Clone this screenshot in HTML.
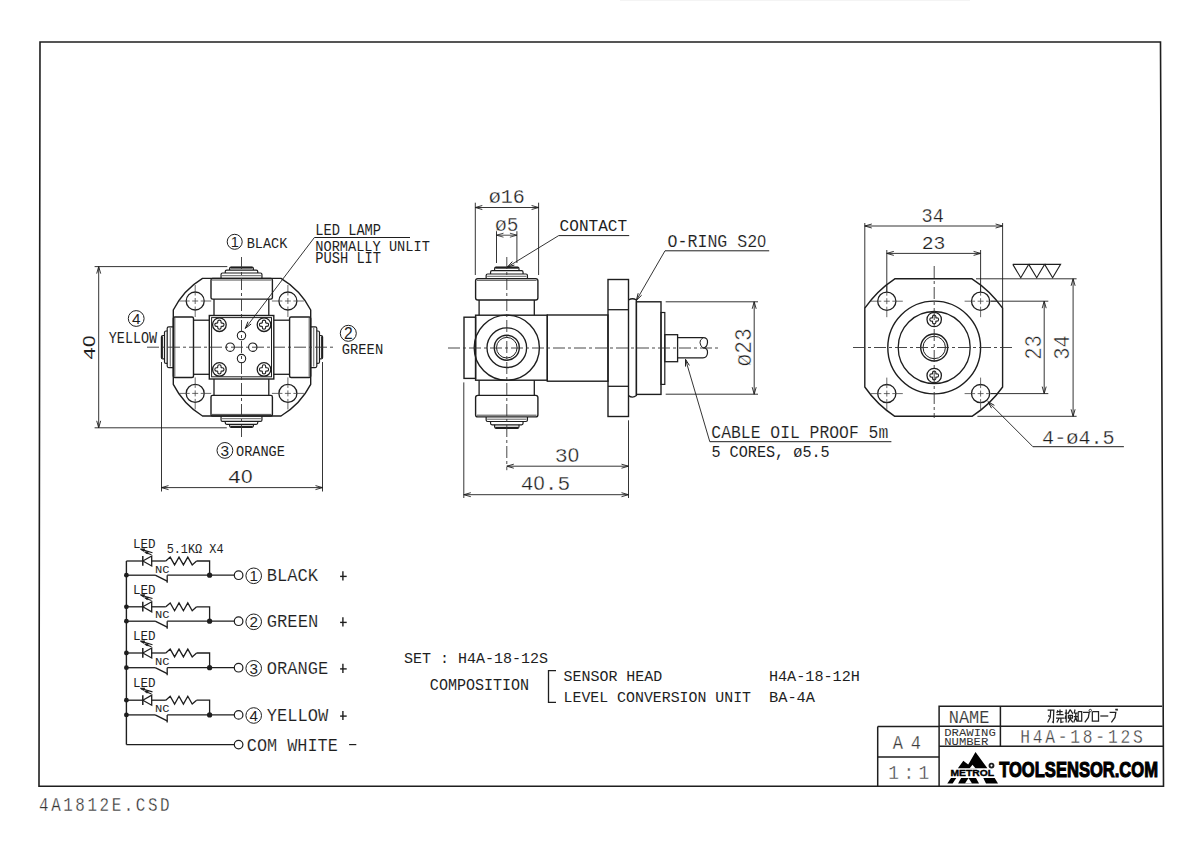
<!DOCTYPE html>
<html><head><meta charset="utf-8"><title>H4A-18-12S</title>
<style>html,body{margin:0;padding:0;background:#fff;} svg{display:block;}</style></head>
<body><svg width="1200" height="846" viewBox="0 0 1200 846">
<rect x="0" y="0" width="1200" height="846" fill="#fff"/>
<path d="M40 42 L1160.5 42 L1163.5 786.3 L39 786.3 Z" stroke="#1e1e1e" stroke-width="1.6" fill="none" />
<text x="38.78" y="811" font-family="Liberation Mono" font-size="20.33" font-weight="normal" fill="#333" textLength="167.31" lengthAdjust="spacing" transform="translate(40,0) scale(0.78,1) translate(-40,0)"  stroke="#fff" stroke-width="0.3">4A1812E.CSD</text>
<line x1="620" y1="0.5" x2="970" y2="0.5" stroke="#f4f4f4" stroke-width="1" />
<path d="M202.5 278.4 L281 278.4 A79 79 0 0 1 310.7 310 L310.7 384.4 A79 79 0 0 1 281 416 L202.5 416 A79 79 0 0 1 173.3 384.4 L173.3 310 A79 79 0 0 1 202.5 278.4 Z" stroke="#1e1e1e" stroke-width="1.4" fill="none" />
<rect x="211" y="278.4" width="61.4" height="20.7" rx="1.5" stroke="#1e1e1e" stroke-width="1.4" fill="none"/>
<rect x="211" y="395.4" width="61.4" height="20.6" rx="1.5" stroke="#1e1e1e" stroke-width="1.4" fill="none"/>
<rect x="173.3" y="317" width="20.2" height="60.5" rx="1.5" stroke="#1e1e1e" stroke-width="1.4" fill="none"/>
<rect x="289.6" y="317" width="21.1" height="60.5" rx="1.5" stroke="#1e1e1e" stroke-width="1.4" fill="none"/>
<line x1="174.8" y1="318" x2="174.8" y2="376.5" stroke="#1e1e1e" stroke-width="0.8" />
<line x1="309.2" y1="318" x2="309.2" y2="376.5" stroke="#1e1e1e" stroke-width="0.8" />
<line x1="212" y1="280" x2="271.4" y2="280" stroke="#1e1e1e" stroke-width="0.8" />
<line x1="212" y1="414.4" x2="271.4" y2="414.4" stroke="#1e1e1e" stroke-width="0.8" />
<line x1="214" y1="299.1" x2="214" y2="315.5" stroke="#1e1e1e" stroke-width="1.3" />
<line x1="214" y1="379" x2="214" y2="395.4" stroke="#1e1e1e" stroke-width="1.3" />
<line x1="268.8" y1="299.1" x2="268.8" y2="315.5" stroke="#1e1e1e" stroke-width="1.3" />
<line x1="268.8" y1="379" x2="268.8" y2="395.4" stroke="#1e1e1e" stroke-width="1.3" />
<line x1="193.5" y1="320.2" x2="209.3" y2="320.2" stroke="#1e1e1e" stroke-width="1.3" />
<line x1="273.8" y1="320.2" x2="289.6" y2="320.2" stroke="#1e1e1e" stroke-width="1.3" />
<line x1="193.5" y1="374.3" x2="209.3" y2="374.3" stroke="#1e1e1e" stroke-width="1.3" />
<line x1="273.8" y1="374.3" x2="289.6" y2="374.3" stroke="#1e1e1e" stroke-width="1.3" />
<rect x="209.3" y="315.5" width="64.5" height="63.5" rx="0" stroke="#1e1e1e" stroke-width="1.4" fill="none"/>
<rect x="211.6" y="317.6" width="59.9" height="59.2" rx="0" stroke="#1e1e1e" stroke-width="1.0" fill="none"/>
<circle cx="195.2" cy="301" r="9" stroke="#1e1e1e" stroke-width="1.3" fill="none"/>
<line x1="179.2" y1="301" x2="211.2" y2="301" stroke="#444" stroke-width="0.8" stroke-dasharray="10.5 2.5 6 2.5 10.5 40"/>
<line x1="195.2" y1="285" x2="195.2" y2="317" stroke="#444" stroke-width="0.8" stroke-dasharray="10.5 2.5 6 2.5 10.5 40"/>
<circle cx="195.2" cy="393.4" r="9" stroke="#1e1e1e" stroke-width="1.3" fill="none"/>
<line x1="179.2" y1="393.4" x2="211.2" y2="393.4" stroke="#444" stroke-width="0.8" stroke-dasharray="10.5 2.5 6 2.5 10.5 40"/>
<line x1="195.2" y1="377.4" x2="195.2" y2="409.4" stroke="#444" stroke-width="0.8" stroke-dasharray="10.5 2.5 6 2.5 10.5 40"/>
<circle cx="287.9" cy="301" r="9" stroke="#1e1e1e" stroke-width="1.3" fill="none"/>
<line x1="271.9" y1="301" x2="303.9" y2="301" stroke="#444" stroke-width="0.8" stroke-dasharray="10.5 2.5 6 2.5 10.5 40"/>
<line x1="287.9" y1="285" x2="287.9" y2="317" stroke="#444" stroke-width="0.8" stroke-dasharray="10.5 2.5 6 2.5 10.5 40"/>
<circle cx="287.9" cy="393.4" r="9" stroke="#1e1e1e" stroke-width="1.3" fill="none"/>
<line x1="271.9" y1="393.4" x2="303.9" y2="393.4" stroke="#444" stroke-width="0.8" stroke-dasharray="10.5 2.5 6 2.5 10.5 40"/>
<line x1="287.9" y1="377.4" x2="287.9" y2="409.4" stroke="#444" stroke-width="0.8" stroke-dasharray="10.5 2.5 6 2.5 10.5 40"/>
<circle cx="219.4" cy="324.7" r="6.8" stroke="#1e1e1e" stroke-width="1.3" fill="none"/>
<path d="M217.7 321.8 A1.7 1.7 0 0 1 221.1 321.8 Q220.68 323.43 222.3 323 A1.7 1.7 0 0 1 222.3 326.4 Q220.68 325.97 221.1 327.6 A1.7 1.7 0 0 1 217.7 327.6 Q218.12 325.97 216.5 326.4 A1.7 1.7 0 0 1 216.5 323 Q218.12 323.43 217.7 321.8 Z" stroke="#1e1e1e" stroke-width="1.1" fill="none" />
<circle cx="219.4" cy="369.4" r="6.8" stroke="#1e1e1e" stroke-width="1.3" fill="none"/>
<path d="M217.7 366.5 A1.7 1.7 0 0 1 221.1 366.5 Q220.68 368.12 222.3 367.7 A1.7 1.7 0 0 1 222.3 371.1 Q220.68 370.67 221.1 372.3 A1.7 1.7 0 0 1 217.7 372.3 Q218.12 370.67 216.5 371.1 A1.7 1.7 0 0 1 216.5 367.7 Q218.12 368.12 217.7 366.5 Z" stroke="#1e1e1e" stroke-width="1.1" fill="none" />
<circle cx="264" cy="324.7" r="6.8" stroke="#1e1e1e" stroke-width="1.3" fill="none"/>
<path d="M262.3 321.8 A1.7 1.7 0 0 1 265.7 321.8 Q265.27 323.43 266.9 323 A1.7 1.7 0 0 1 266.9 326.4 Q265.27 325.97 265.7 327.6 A1.7 1.7 0 0 1 262.3 327.6 Q262.73 325.97 261.1 326.4 A1.7 1.7 0 0 1 261.1 323 Q262.73 323.43 262.3 321.8 Z" stroke="#1e1e1e" stroke-width="1.1" fill="none" />
<circle cx="264" cy="369.4" r="6.8" stroke="#1e1e1e" stroke-width="1.3" fill="none"/>
<path d="M262.3 366.5 A1.7 1.7 0 0 1 265.7 366.5 Q265.27 368.12 266.9 367.7 A1.7 1.7 0 0 1 266.9 371.1 Q265.27 370.67 265.7 372.3 A1.7 1.7 0 0 1 262.3 372.3 Q262.73 370.67 261.1 371.1 A1.7 1.7 0 0 1 261.1 367.7 Q262.73 368.12 262.3 366.5 Z" stroke="#1e1e1e" stroke-width="1.1" fill="none" />
<circle cx="241.5" cy="335.6" r="4.2" stroke="#1e1e1e" stroke-width="1.1" fill="none"/>
<circle cx="241.5" cy="358.6" r="4.2" stroke="#1e1e1e" stroke-width="1.1" fill="none"/>
<circle cx="230.2" cy="347.2" r="4.2" stroke="#1e1e1e" stroke-width="1.1" fill="none"/>
<circle cx="252.8" cy="347.2" r="4.2" stroke="#1e1e1e" stroke-width="1.1" fill="none"/>
<path d="M221.05 278.4 L221.05 274.5 Q221.05 273 222.55 273 L260.45 273 Q261.95 273 261.95 274.5 L261.95 278.4" stroke="#1e1e1e" stroke-width="1.2" fill="none" />
<line x1="222.05" y1="275.7" x2="260.95" y2="275.7" stroke="#1e1e1e" stroke-width="0.7" />
<path d="M225.25 273 L225.25 271.6 Q225.25 270.1 226.75 270.1 L256.25 270.1 Q257.75 270.1 257.75 271.6 L257.75 273" stroke="#1e1e1e" stroke-width="1.2" fill="none" />
<path d="M229.6 270.1 L229.6 268.6 Q229.6 267.1 231.1 267.1 L251.9 267.1 Q253.4 267.1 253.4 268.6 L253.4 270.1" stroke="#1e1e1e" stroke-width="1.2" fill="none" />
<line x1="230.5" y1="267.7" x2="252.5" y2="267.7" stroke="#1e1e1e" stroke-width="1.8" />
<path d="M221.05 416 L221.05 419.9 Q221.05 421.4 222.55 421.4 L260.45 421.4 Q261.95 421.4 261.95 419.9 L261.95 416" stroke="#1e1e1e" stroke-width="1.2" fill="none" />
<line x1="222.05" y1="418.7" x2="260.95" y2="418.7" stroke="#1e1e1e" stroke-width="0.7" />
<path d="M225.25 421.4 L225.25 422.8 Q225.25 424.3 226.75 424.3 L256.25 424.3 Q257.75 424.3 257.75 422.8 L257.75 421.4" stroke="#1e1e1e" stroke-width="1.2" fill="none" />
<path d="M229.6 424.3 L229.6 425.8 Q229.6 427.3 231.1 427.3 L251.9 427.3 Q253.4 427.3 253.4 425.8 L253.4 424.3" stroke="#1e1e1e" stroke-width="1.2" fill="none" />
<line x1="230.5" y1="426.7" x2="252.5" y2="426.7" stroke="#1e1e1e" stroke-width="1.8" />
<path d="M173.3 326.85 L168.7 326.85 Q167.2 326.85 167.2 328.35 L167.2 366.05 Q167.2 367.55 168.7 367.55 L173.3 367.55" stroke="#1e1e1e" stroke-width="1.2" fill="none" />
<line x1="170.25" y1="327.85" x2="170.25" y2="366.55" stroke="#1e1e1e" stroke-width="0.7" />
<path d="M167.2 331 L166 331 Q164.5 331 164.5 332.5 L164.5 361.9 Q164.5 363.4 166 363.4 L167.2 363.4" stroke="#1e1e1e" stroke-width="1.2" fill="none" />
<path d="M164.5 335.5 L162.9 335.5 Q161.4 335.5 161.4 337 L161.4 357.4 Q161.4 358.9 162.9 358.9 L164.5 358.9" stroke="#1e1e1e" stroke-width="1.2" fill="none" />
<line x1="162" y1="336.2" x2="162" y2="358.2" stroke="#1e1e1e" stroke-width="1.8" />
<path d="M310.7 326.85 L315.3 326.85 Q316.8 326.85 316.8 328.35 L316.8 366.05 Q316.8 367.55 315.3 367.55 L310.7 367.55" stroke="#1e1e1e" stroke-width="1.2" fill="none" />
<line x1="313.75" y1="327.85" x2="313.75" y2="366.55" stroke="#1e1e1e" stroke-width="0.7" />
<path d="M316.8 331 L318 331 Q319.5 331 319.5 332.5 L319.5 361.9 Q319.5 363.4 318 363.4 L316.8 363.4" stroke="#1e1e1e" stroke-width="1.2" fill="none" />
<path d="M319.5 335.5 L321.1 335.5 Q322.6 335.5 322.6 337 L322.6 357.4 Q322.6 358.9 321.1 358.9 L319.5 358.9" stroke="#1e1e1e" stroke-width="1.2" fill="none" />
<line x1="322" y1="336.2" x2="322" y2="358.2" stroke="#1e1e1e" stroke-width="1.8" />
<line x1="241.5" y1="257" x2="241.5" y2="439.5" stroke="#333" stroke-width="0.9" stroke-dasharray="12 3 3 3"/>
<line x1="147" y1="347.2" x2="336" y2="347.2" stroke="#333" stroke-width="0.9" stroke-dasharray="12 3 3 3"/>
<line x1="94.6" y1="266.6" x2="227.3" y2="266.6" stroke="#1e1e1e" stroke-width="0.9" />
<line x1="94.6" y1="427.8" x2="226.8" y2="427.8" stroke="#1e1e1e" stroke-width="0.9" />
<line x1="98.7" y1="266.6" x2="98.7" y2="427.8" stroke="#1e1e1e" stroke-width="0.9" />
<path d="M96.7 273.6 L98.7 266.6 L100.7 273.6" stroke="#1e1e1e" stroke-width="0.9" fill="none" />
<path d="M100.7 420.8 L98.7 427.8 L96.7 420.8" stroke="#1e1e1e" stroke-width="0.9" fill="none" />
<text transform="translate(94.6,359) rotate(-90)" x="-1.27" y="0" font-family="Liberation Mono" font-size="17" fill="#1e1e1e" stroke="#fff" stroke-width="0.03" textLength="25.05" lengthAdjust="spacingAndGlyphs">4<tspan font-family="Liberation Sans" font-size="16.05">0</tspan></text>
<line x1="161.5" y1="362" x2="161.5" y2="491.5" stroke="#1e1e1e" stroke-width="0.9" />
<line x1="322.5" y1="362" x2="322.5" y2="491.5" stroke="#1e1e1e" stroke-width="0.9" />
<line x1="161.5" y1="487.6" x2="322.5" y2="487.6" stroke="#1e1e1e" stroke-width="0.9" />
<path d="M168.5 489.6 L161.5 487.6 L168.5 485.6" stroke="#1e1e1e" stroke-width="0.9" fill="none" />
<path d="M315.5 485.6 L322.5 487.6 L315.5 489.6" stroke="#1e1e1e" stroke-width="0.9" fill="none" />
<text x="227.86" y="482.8" font-family="Liberation Mono" font-size="19.12" font-weight="normal" fill="#1e1e1e" textLength="24.78" lengthAdjust="spacingAndGlyphs"  stroke="#fff" stroke-width="0.2">4<tspan font-family="Liberation Sans" font-size="18.05">0</tspan></text>
<circle cx="234.7" cy="241.8" r="7.5" stroke="#1e1e1e" stroke-width="1.0" fill="none"/>
<text x="234.7" y="246.9" text-anchor="middle" font-family="Liberation Sans" font-size="14.61" fill="#1e1e1e">1</text>
<text x="246.75" y="247.8" font-family="Liberation Mono" font-size="15.02" font-weight="normal" fill="#1e1e1e" textLength="40.6" lengthAdjust="spacingAndGlyphs" >BLACK</text>
<circle cx="348.3" cy="333.3" r="8" stroke="#1e1e1e" stroke-width="1.0" fill="none"/>
<text x="348.3" y="338.74" text-anchor="middle" font-family="Liberation Sans" font-size="15.59" fill="#1e1e1e">2</text>
<text x="341.84" y="354.2" font-family="Liberation Mono" font-size="15.17" font-weight="normal" fill="#1e1e1e" textLength="41.32" lengthAdjust="spacingAndGlyphs" >GREEN</text>
<circle cx="136.2" cy="318.5" r="7.9" stroke="#1e1e1e" stroke-width="1.0" fill="none"/>
<text x="136.2" y="323.87" text-anchor="middle" font-family="Liberation Sans" font-size="15.39" fill="#1e1e1e">4</text>
<text x="108.77" y="343.3" font-family="Liberation Mono" font-size="16.08" font-weight="normal" fill="#1e1e1e" textLength="48.35" lengthAdjust="spacingAndGlyphs" >YELLOW</text>
<circle cx="224.9" cy="450.4" r="7.9" stroke="#1e1e1e" stroke-width="1.0" fill="none"/>
<text x="224.9" y="455.77" text-anchor="middle" font-family="Liberation Sans" font-size="15.39" fill="#1e1e1e">3</text>
<text x="236.03" y="456.2" font-family="Liberation Mono" font-size="15.33" font-weight="normal" fill="#1e1e1e" textLength="48.85" lengthAdjust="spacingAndGlyphs" >ORANGE</text>
<text x="315.21" y="234.7" font-family="Liberation Mono" font-size="15.63" font-weight="normal" fill="#1e1e1e" textLength="65.89" lengthAdjust="spacingAndGlyphs" >LED LAMP</text>
<text x="315.27" y="251" font-family="Liberation Mono" font-size="14.72" font-weight="normal" fill="#1e1e1e" textLength="114.56" lengthAdjust="spacingAndGlyphs" >NORMALLY UNLIT</text>
<text x="315.21" y="262.8" font-family="Liberation Mono" font-size="15.63" font-weight="normal" fill="#1e1e1e" textLength="65.89" lengthAdjust="spacingAndGlyphs" >PUSH LIT</text>
<line x1="314.4" y1="237.5" x2="410" y2="237.5" stroke="#1e1e1e" stroke-width="1.0" />
<line x1="314.4" y1="237.5" x2="245.3" y2="328.4" stroke="#1e1e1e" stroke-width="0.9" />
<path d="M251.13 324.04 L245.3 328.4 L247.94 321.62" stroke="#1e1e1e" stroke-width="1.0" fill="none" />
<rect x="475.6" y="278.6" width="62.3" height="21.4" rx="2.2" stroke="#1e1e1e" stroke-width="1.4" fill="none"/>
<line x1="477" y1="280.3" x2="536.5" y2="280.3" stroke="#1e1e1e" stroke-width="0.8" />
<rect x="475.6" y="395.4" width="62.3" height="21.5" rx="2.2" stroke="#1e1e1e" stroke-width="1.4" fill="none"/>
<line x1="477" y1="415.2" x2="536.5" y2="415.2" stroke="#1e1e1e" stroke-width="0.8" />
<line x1="479.1" y1="300" x2="479.1" y2="315.2" stroke="#1e1e1e" stroke-width="1.3" />
<line x1="479.1" y1="380.2" x2="479.1" y2="395.4" stroke="#1e1e1e" stroke-width="1.3" />
<line x1="534.3" y1="300" x2="534.3" y2="315.2" stroke="#1e1e1e" stroke-width="1.3" />
<line x1="534.3" y1="380.2" x2="534.3" y2="395.4" stroke="#1e1e1e" stroke-width="1.3" />
<rect x="475.6" y="315.2" width="71.7" height="65" rx="0" stroke="#1e1e1e" stroke-width="1.4" fill="none"/>
<rect x="464" y="317.2" width="11.6" height="61.2" rx="0" stroke="#1e1e1e" stroke-width="1.4" fill="none"/>
<circle cx="506.8" cy="347.7" r="32.6" stroke="#1e1e1e" stroke-width="1.4" fill="none"/>
<circle cx="506.8" cy="347.7" r="19.8" stroke="#1e1e1e" stroke-width="1.3" fill="none"/>
<circle cx="506.8" cy="347.7" r="12.5" stroke="#1e1e1e" stroke-width="1.4" fill="none"/>
<circle cx="506.8" cy="347.7" r="10.3" stroke="#1e1e1e" stroke-width="1.0" fill="none"/>
<path d="M486.15 278.6 L486.15 275.5 Q486.15 274 487.65 274 L525.95 274 Q527.45 274 527.45 275.5 L527.45 278.6" stroke="#1e1e1e" stroke-width="1.2" fill="none" />
<line x1="487.15" y1="276.3" x2="526.45" y2="276.3" stroke="#1e1e1e" stroke-width="0.7" />
<path d="M490.55 274 L490.55 272.2 Q490.55 270.7 492.05 270.7 L521.55 270.7 Q523.05 270.7 523.05 272.2 L523.05 274" stroke="#1e1e1e" stroke-width="1.2" fill="none" />
<path d="M494.6 270.7 L494.6 268.7 Q494.6 267.2 496.1 267.2 L517.5 267.2 Q519 267.2 519 268.7 L519 270.7" stroke="#1e1e1e" stroke-width="1.2" fill="none" />
<line x1="495.3" y1="267.8" x2="518.3" y2="267.8" stroke="#1e1e1e" stroke-width="1.8" />
<path d="M486.15 416.9 L486.15 420 Q486.15 421.5 487.65 421.5 L525.95 421.5 Q527.45 421.5 527.45 420 L527.45 416.9" stroke="#1e1e1e" stroke-width="1.2" fill="none" />
<line x1="487.15" y1="419.2" x2="526.45" y2="419.2" stroke="#1e1e1e" stroke-width="0.7" />
<path d="M490.55 421.5 L490.55 423.3 Q490.55 424.8 492.05 424.8 L521.55 424.8 Q523.05 424.8 523.05 423.3 L523.05 421.5" stroke="#1e1e1e" stroke-width="1.2" fill="none" />
<path d="M494.6 424.8 L494.6 426.8 Q494.6 428.3 496.1 428.3 L517.5 428.3 Q519 428.3 519 426.8 L519 424.8" stroke="#1e1e1e" stroke-width="1.2" fill="none" />
<line x1="495.3" y1="427.7" x2="518.3" y2="427.7" stroke="#1e1e1e" stroke-width="1.8" />
<rect x="547.3" y="315" width="60.7" height="66.2" rx="0" stroke="#1e1e1e" stroke-width="1.4" fill="none"/>
<rect x="608" y="279.5" width="20.5" height="137" rx="0" stroke="#1e1e1e" stroke-width="1.4" fill="none"/>
<line x1="608" y1="309.7" x2="628.5" y2="309.7" stroke="#1e1e1e" stroke-width="1.3" />
<line x1="608" y1="386.3" x2="628.5" y2="386.3" stroke="#1e1e1e" stroke-width="1.3" />
<path d="M628.5 300 Q632.5 297.5 636.4 300 L636.4 395.6 Q632.5 398.5 628.5 395.6" stroke="#1e1e1e" stroke-width="1.3" fill="none" />
<rect x="636.4" y="301.8" width="24.6" height="92.6" rx="0" stroke="#1e1e1e" stroke-width="1.4" fill="none"/>
<rect x="661" y="312.5" width="3.8" height="71.9" rx="0" stroke="#1e1e1e" stroke-width="1.2" fill="none"/>
<rect x="664.8" y="334.7" width="12.8" height="27" rx="0" stroke="#1e1e1e" stroke-width="1.3" fill="none"/>
<path d="M677.6 337.7 L703 337.7 M677.6 357.9 L703 357.9" stroke="#1e1e1e" stroke-width="1.3" fill="none" />
<path d="M703 337.7 Q708 337.7 707.5 342.5 Q707 347.8 703 347.8 Q708 348 707.5 353 Q707 357.9 703 357.9" stroke="#1e1e1e" stroke-width="1.2" fill="none" />
<path d="M703 337.7 Q699.5 340 700 342.8 Q700.5 346.5 703 347.8" stroke="#1e1e1e" stroke-width="1.0" fill="none" />
<line x1="506.8" y1="257" x2="506.8" y2="470.2" stroke="#333" stroke-width="0.9" stroke-dasharray="12 3 3 3"/>
<line x1="448" y1="348" x2="719" y2="348" stroke="#333" stroke-width="0.9" stroke-dasharray="12 3 3 3"/>
<line x1="475.3" y1="202.7" x2="475.3" y2="275" stroke="#1e1e1e" stroke-width="0.9" />
<line x1="538.6" y1="202.7" x2="538.6" y2="275" stroke="#1e1e1e" stroke-width="0.9" />
<line x1="475.3" y1="207.5" x2="538.6" y2="207.5" stroke="#1e1e1e" stroke-width="0.9" />
<path d="M482.3 209.5 L475.3 207.5 L482.3 205.5" stroke="#1e1e1e" stroke-width="0.9" fill="none" />
<path d="M531.6 205.5 L538.6 207.5 L531.6 209.5" stroke="#1e1e1e" stroke-width="0.9" fill="none" />
<text x="488.71" y="202.7" font-family="Liberation Mono" font-size="19.88" font-weight="normal" fill="#1e1e1e" textLength="36.08" lengthAdjust="spacingAndGlyphs"  stroke="#fff" stroke-width="0.26">ø16</text>
<line x1="496.5" y1="231.2" x2="496.5" y2="263" stroke="#1e1e1e" stroke-width="0.9" />
<line x1="516.9" y1="231.2" x2="516.9" y2="263" stroke="#1e1e1e" stroke-width="0.9" />
<line x1="496.5" y1="235.2" x2="516.9" y2="235.2" stroke="#1e1e1e" stroke-width="0.8" />
<path d="M503.5 237.2 L496.5 235.2 L503.5 233.2" stroke="#1e1e1e" stroke-width="0.8" fill="none" />
<path d="M509.9 233.2 L516.9 235.2 L509.9 237.2" stroke="#1e1e1e" stroke-width="0.8" fill="none" />
<text x="495.04" y="230.7" font-family="Liberation Mono" font-size="20.79" font-weight="normal" fill="#1e1e1e" textLength="23.41" lengthAdjust="spacingAndGlyphs"  stroke="#fff" stroke-width="0.33">ø5</text>
<text x="559.62" y="231.2" font-family="Liberation Mono" font-size="16.84" font-weight="normal" fill="#1e1e1e" textLength="67.56" lengthAdjust="spacingAndGlyphs" >CONTACT</text>
<line x1="558.7" y1="235.6" x2="629.2" y2="235.6" stroke="#1e1e1e" stroke-width="1.0" />
<line x1="558.7" y1="235.6" x2="507.4" y2="267" stroke="#1e1e1e" stroke-width="0.9" />
<path d="M514.41 265.05 L507.4 267 L512.33 261.64" stroke="#1e1e1e" stroke-width="1.0" fill="none" />
<text x="667.53" y="247" font-family="Liberation Mono" font-size="18.21" font-weight="normal" fill="#1e1e1e" textLength="98.45" lengthAdjust="spacingAndGlyphs"  stroke="#fff" stroke-width="0.12">O-RING S2<tspan font-family="Liberation Sans" font-size="17.19">0</tspan></text>
<line x1="665" y1="250.8" x2="769.2" y2="250.8" stroke="#1e1e1e" stroke-width="1.0" />
<line x1="665" y1="250.8" x2="636.4" y2="300.3" stroke="#1e1e1e" stroke-width="0.9" />
<path d="M641.63 295.24 L636.4 300.3 L638.17 293.24" stroke="#1e1e1e" stroke-width="1.0" fill="none" />
<line x1="665.7" y1="301.8" x2="758" y2="301.8" stroke="#1e1e1e" stroke-width="0.9" />
<line x1="665.7" y1="394.2" x2="758" y2="394.2" stroke="#1e1e1e" stroke-width="0.9" />
<line x1="754.2" y1="301.8" x2="754.2" y2="394.2" stroke="#1e1e1e" stroke-width="0.9" />
<path d="M752.2 308.8 L754.2 301.8 L756.2 308.8" stroke="#1e1e1e" stroke-width="0.9" fill="none" />
<path d="M756.2 387.2 L754.2 394.2 L752.2 387.2" stroke="#1e1e1e" stroke-width="0.9" fill="none" />
<text transform="translate(750.5,364.8) rotate(-90)" x="-1.73" y="0" font-family="Liberation Mono" font-size="23.07" fill="#1e1e1e" stroke="#fff" stroke-width="0.52" textLength="38.26" lengthAdjust="spacingAndGlyphs">ø23</text>
<line x1="685.5" y1="359.3" x2="709.8" y2="441.7" stroke="#1e1e1e" stroke-width="0.9" />
<path d="M685.56 366.58 L685.5 359.3 L689.4 365.45" stroke="#1e1e1e" stroke-width="1.0" fill="none" />
<line x1="709.8" y1="441.7" x2="891.4" y2="441.7" stroke="#1e1e1e" stroke-width="1.0" />
<text x="711.34" y="438.4" font-family="Liberation Mono" font-size="18.06" font-weight="normal" fill="#1e1e1e" textLength="176.93" lengthAdjust="spacingAndGlyphs"  stroke="#fff" stroke-width="0.11">CABLE OIL PROOF 5m</text>
<text x="711.4" y="457.3" font-family="Liberation Mono" font-size="17.15" font-weight="normal" fill="#1e1e1e" textLength="118.3" lengthAdjust="spacingAndGlyphs" >5 CORES, ø5.5</text>
<line x1="463.8" y1="382.4" x2="463.8" y2="498" stroke="#1e1e1e" stroke-width="0.9" />
<line x1="628.5" y1="420.3" x2="628.5" y2="498" stroke="#1e1e1e" stroke-width="0.9" />
<line x1="506.8" y1="466.2" x2="628.5" y2="466.2" stroke="#1e1e1e" stroke-width="0.9" />
<path d="M513.8 468.2 L506.8 466.2 L513.8 464.2" stroke="#1e1e1e" stroke-width="0.9" fill="none" />
<path d="M621.5 464.2 L628.5 466.2 L621.5 468.2" stroke="#1e1e1e" stroke-width="0.9" fill="none" />
<text x="554.87" y="461.5" font-family="Liberation Mono" font-size="20.49" font-weight="normal" fill="#1e1e1e" textLength="24.27" lengthAdjust="spacingAndGlyphs"  stroke="#fff" stroke-width="0.31">3<tspan font-family="Liberation Sans" font-size="19.34">0</tspan></text>
<line x1="463.8" y1="494.7" x2="628.5" y2="494.7" stroke="#1e1e1e" stroke-width="0.9" />
<path d="M470.8 496.7 L463.8 494.7 L470.8 492.7" stroke="#1e1e1e" stroke-width="0.9" fill="none" />
<path d="M621.5 492.7 L628.5 494.7 L621.5 496.7" stroke="#1e1e1e" stroke-width="0.9" fill="none" />
<text x="520.87" y="490" font-family="Liberation Mono" font-size="20.49" font-weight="normal" fill="#1e1e1e" textLength="49.27" lengthAdjust="spacingAndGlyphs"  stroke="#fff" stroke-width="0.31">4<tspan font-family="Liberation Sans" font-size="19.34">0</tspan>.5</text>
<path d="M894.8 278.8 L972 278.8 A110 110 0 0 1 1002.6 308.2 L1002.6 387 A110 110 0 0 1 972 416.3 L894.8 416.3 A110 110 0 0 1 864.8 387 L864.8 308.2 A110 110 0 0 1 894.8 278.8 Z" stroke="#1e1e1e" stroke-width="1.4" fill="none" />
<circle cx="886.8" cy="301.2" r="9.1" stroke="#1e1e1e" stroke-width="1.3" fill="none"/>
<line x1="870.8" y1="301.2" x2="902.8" y2="301.2" stroke="#444" stroke-width="0.8" stroke-dasharray="10.5 2.5 6 2.5 10.5 40"/>
<line x1="886.8" y1="285.2" x2="886.8" y2="317.2" stroke="#444" stroke-width="0.8" stroke-dasharray="10.5 2.5 6 2.5 10.5 40"/>
<circle cx="886.8" cy="393.6" r="9.1" stroke="#1e1e1e" stroke-width="1.3" fill="none"/>
<line x1="870.8" y1="393.6" x2="902.8" y2="393.6" stroke="#444" stroke-width="0.8" stroke-dasharray="10.5 2.5 6 2.5 10.5 40"/>
<line x1="886.8" y1="377.6" x2="886.8" y2="409.6" stroke="#444" stroke-width="0.8" stroke-dasharray="10.5 2.5 6 2.5 10.5 40"/>
<circle cx="980.6" cy="301.2" r="9.1" stroke="#1e1e1e" stroke-width="1.3" fill="none"/>
<line x1="964.6" y1="301.2" x2="996.6" y2="301.2" stroke="#444" stroke-width="0.8" stroke-dasharray="10.5 2.5 6 2.5 10.5 40"/>
<line x1="980.6" y1="285.2" x2="980.6" y2="317.2" stroke="#444" stroke-width="0.8" stroke-dasharray="10.5 2.5 6 2.5 10.5 40"/>
<circle cx="980.6" cy="393.6" r="9.1" stroke="#1e1e1e" stroke-width="1.3" fill="none"/>
<line x1="964.6" y1="393.6" x2="996.6" y2="393.6" stroke="#444" stroke-width="0.8" stroke-dasharray="10.5 2.5 6 2.5 10.5 40"/>
<line x1="980.6" y1="377.6" x2="980.6" y2="409.6" stroke="#444" stroke-width="0.8" stroke-dasharray="10.5 2.5 6 2.5 10.5 40"/>
<circle cx="934.2" cy="347.5" r="46.4" stroke="#1e1e1e" stroke-width="1.4" fill="none"/>
<circle cx="934.2" cy="347.5" r="36" stroke="#1e1e1e" stroke-width="1.3" fill="none"/>
<circle cx="934.2" cy="347.5" r="13.5" stroke="#1e1e1e" stroke-width="1.4" fill="none"/>
<circle cx="934.2" cy="347.5" r="11.2" stroke="#1e1e1e" stroke-width="1.0" fill="none"/>
<circle cx="934.2" cy="319.5" r="7.2" stroke="#1e1e1e" stroke-width="1.3" fill="none"/>
<path d="M932.5 316.8 A1.7 1.7 0 0 1 935.9 316.8 Q935.48 318.23 936.9 317.8 A1.7 1.7 0 0 1 936.9 321.2 Q935.48 320.77 935.9 322.2 A1.7 1.7 0 0 1 932.5 322.2 Q932.93 320.77 931.5 321.2 A1.7 1.7 0 0 1 931.5 317.8 Q932.93 318.23 932.5 316.8 Z" stroke="#1e1e1e" stroke-width="1.1" fill="none" />
<circle cx="934.2" cy="375.5" r="7.2" stroke="#1e1e1e" stroke-width="1.3" fill="none"/>
<path d="M932.5 372.8 A1.7 1.7 0 0 1 935.9 372.8 Q935.48 374.23 936.9 373.8 A1.7 1.7 0 0 1 936.9 377.2 Q935.48 376.77 935.9 378.2 A1.7 1.7 0 0 1 932.5 378.2 Q932.93 376.77 931.5 377.2 A1.7 1.7 0 0 1 931.5 373.8 Q932.93 374.23 932.5 372.8 Z" stroke="#1e1e1e" stroke-width="1.1" fill="none" />
<line x1="934.2" y1="266" x2="934.2" y2="418" stroke="#333" stroke-width="0.9" stroke-dasharray="12 3 3 3"/>
<line x1="853" y1="347.5" x2="1015" y2="347.5" stroke="#333" stroke-width="0.9" stroke-dasharray="12 3 3 3"/>
<line x1="864.8" y1="223" x2="864.8" y2="308.2" stroke="#1e1e1e" stroke-width="0.9" />
<line x1="1002.6" y1="223" x2="1002.6" y2="308.2" stroke="#1e1e1e" stroke-width="0.9" />
<line x1="864.8" y1="226" x2="1002.6" y2="226" stroke="#1e1e1e" stroke-width="0.9" />
<path d="M871.8 228 L864.8 226 L871.8 224" stroke="#1e1e1e" stroke-width="0.9" fill="none" />
<path d="M995.6 224 L1002.6 226 L995.6 228" stroke="#1e1e1e" stroke-width="0.9" fill="none" />
<text x="921.62" y="222" font-family="Liberation Mono" font-size="19.73" font-weight="normal" fill="#1e1e1e" textLength="22.36" lengthAdjust="spacingAndGlyphs"  stroke="#fff" stroke-width="0.25">34</text>
<line x1="886.8" y1="250" x2="886.8" y2="292" stroke="#1e1e1e" stroke-width="0.9" />
<line x1="980.6" y1="250" x2="980.6" y2="292" stroke="#1e1e1e" stroke-width="0.9" />
<line x1="886.8" y1="253.4" x2="980.6" y2="253.4" stroke="#1e1e1e" stroke-width="0.9" />
<path d="M893.8 255.4 L886.8 253.4 L893.8 251.4" stroke="#1e1e1e" stroke-width="0.9" fill="none" />
<path d="M973.6 251.4 L980.6 253.4 L973.6 255.4" stroke="#1e1e1e" stroke-width="0.9" fill="none" />
<text x="921.66" y="248.6" font-family="Liberation Mono" font-size="19.12" font-weight="normal" fill="#1e1e1e" textLength="23.68" lengthAdjust="spacingAndGlyphs"  stroke="#fff" stroke-width="0.2">23</text>
<line x1="991" y1="301.2" x2="1048.3" y2="301.2" stroke="#1e1e1e" stroke-width="0.9" />
<line x1="991" y1="393.6" x2="1048.3" y2="393.6" stroke="#1e1e1e" stroke-width="0.9" />
<line x1="1044.2" y1="301.2" x2="1044.2" y2="393.6" stroke="#1e1e1e" stroke-width="0.9" />
<path d="M1042.2 308.2 L1044.2 301.2 L1046.2 308.2" stroke="#1e1e1e" stroke-width="0.9" fill="none" />
<path d="M1046.2 386.6 L1044.2 393.6 L1042.2 386.6" stroke="#1e1e1e" stroke-width="0.9" fill="none" />
<text transform="translate(1040.7,358.1) rotate(-90)" x="-1.78" y="0" font-family="Liberation Mono" font-size="23.67" fill="#1e1e1e" stroke="#fff" stroke-width="0.57" textLength="24.85" lengthAdjust="spacingAndGlyphs">23</text>
<line x1="976" y1="278.8" x2="1076.6" y2="278.8" stroke="#1e1e1e" stroke-width="0.9" />
<line x1="977.4" y1="416.3" x2="1076.6" y2="416.3" stroke="#1e1e1e" stroke-width="0.9" />
<line x1="1073.1" y1="278.8" x2="1073.1" y2="416.3" stroke="#1e1e1e" stroke-width="0.9" />
<path d="M1071.1 285.8 L1073.1 278.8 L1075.1 285.8" stroke="#1e1e1e" stroke-width="0.9" fill="none" />
<path d="M1075.1 409.3 L1073.1 416.3 L1071.1 409.3" stroke="#1e1e1e" stroke-width="0.9" fill="none" />
<text transform="translate(1069,358.1) rotate(-90)" x="-1.68" y="0" font-family="Liberation Mono" font-size="22.46" fill="#1e1e1e" stroke="#fff" stroke-width="0.47" textLength="24.67" lengthAdjust="spacingAndGlyphs">34</text>
<path d="M1012.8 264.4 L1028.73 264.4 L1020.77 277.7 L1012.8 264.4" stroke="#1e1e1e" stroke-width="1.1" fill="none" />
<path d="M1028.73 264.4 L1044.66 264.4 L1036.7 277.7 L1028.73 264.4" stroke="#1e1e1e" stroke-width="1.1" fill="none" />
<path d="M1044.66 264.4 L1060.59 264.4 L1052.63 277.7 L1044.66 264.4" stroke="#1e1e1e" stroke-width="1.1" fill="none" />
<line x1="988" y1="401.8" x2="1032.9" y2="446.7" stroke="#1e1e1e" stroke-width="0.9" />
<path d="M991.54 408.16 L988 401.8 L994.36 405.34" stroke="#1e1e1e" stroke-width="1.0" fill="none" />
<line x1="1032.9" y1="446.7" x2="1123.9" y2="446.7" stroke="#1e1e1e" stroke-width="1.0" />
<text x="1042.09" y="443.9" font-family="Liberation Mono" font-size="20.18" font-weight="normal" fill="#1e1e1e" textLength="72.63" lengthAdjust="spacingAndGlyphs"  stroke="#fff" stroke-width="0.28">4-ø4.5</text>
<line x1="126.4" y1="561" x2="126.4" y2="744.6" stroke="#1e1e1e" stroke-width="1.4" />
<line x1="126.4" y1="561" x2="142.8" y2="561" stroke="#1e1e1e" stroke-width="1.3" />
<line x1="142.8" y1="556" x2="142.8" y2="565.8" stroke="#1e1e1e" stroke-width="1.5" />
<path d="M142.8 561 L151.7 556 L151.7 566 L142.8 561" stroke="#1e1e1e" stroke-width="1.3" fill="none" />
<line x1="151.7" y1="561" x2="165.8" y2="561" stroke="#1e1e1e" stroke-width="1.3" />
<path d="M165.8 561 L170.2 557.1 L174.6 564.9 L179 557.1 L183.4 564.9 L187.8 557.1 L192.2 564.9 L196.6 561" stroke="#1e1e1e" stroke-width="1.3" fill="none" />
<path d="M196.6 561 L209.6 561 L209.6 575.2" stroke="#1e1e1e" stroke-width="1.3" fill="none" />
<line x1="152.5" y1="552.7" x2="141" y2="549.4" stroke="#1e1e1e" stroke-width="1.1" />
<line x1="151.5" y1="554.7" x2="145.5" y2="552.4" stroke="#1e1e1e" stroke-width="1.1" />
<path d="M140.2 549 L144.8 548.8 L143.6 551.4 Z" stroke="#1e1e1e" stroke-width="0.6" fill="#1e1e1e" />
<path d="M144.5 552 L148.6 551.4 L147.2 554 Z" stroke="#1e1e1e" stroke-width="0.6" fill="#1e1e1e" />
<line x1="126.4" y1="575.2" x2="155.2" y2="575.2" stroke="#1e1e1e" stroke-width="1.3" />
<line x1="155.2" y1="575.2" x2="167.2" y2="581.2" stroke="#1e1e1e" stroke-width="1.3" />
<line x1="167.2" y1="575.2" x2="167.2" y2="582.7" stroke="#1e1e1e" stroke-width="1.3" />
<line x1="167.2" y1="575.2" x2="234.3" y2="575.2" stroke="#1e1e1e" stroke-width="1.3" />
<circle cx="126.4" cy="575.2" r="2.4" stroke="#1e1e1e" stroke-width="0" fill="#1e1e1e"/>
<circle cx="209.6" cy="575.2" r="2.6" stroke="#1e1e1e" stroke-width="0" fill="#1e1e1e"/>
<circle cx="238.6" cy="575.2" r="4.3" stroke="#1e1e1e" stroke-width="1.2" fill="none"/>
<text x="132.97" y="547.7" font-family="Liberation Mono" font-size="13.35" font-weight="normal" fill="#1e1e1e" textLength="22.57" lengthAdjust="spacingAndGlyphs" >LED</text>
<text x="155.05" y="572.6" font-family="Liberation Mono" font-size="10.77" font-weight="normal" fill="#1e1e1e" textLength="14.51" lengthAdjust="spacingAndGlyphs" >NC</text>
<line x1="126.4" y1="606.8" x2="142.8" y2="606.8" stroke="#1e1e1e" stroke-width="1.3" />
<line x1="142.8" y1="601.8" x2="142.8" y2="611.6" stroke="#1e1e1e" stroke-width="1.5" />
<path d="M142.8 606.8 L151.7 601.8 L151.7 611.8 L142.8 606.8" stroke="#1e1e1e" stroke-width="1.3" fill="none" />
<line x1="151.7" y1="606.8" x2="165.8" y2="606.8" stroke="#1e1e1e" stroke-width="1.3" />
<path d="M165.8 606.8 L170.2 602.9 L174.6 610.7 L179 602.9 L183.4 610.7 L187.8 602.9 L192.2 610.7 L196.6 606.8" stroke="#1e1e1e" stroke-width="1.3" fill="none" />
<path d="M196.6 606.8 L209.6 606.8 L209.6 621.2" stroke="#1e1e1e" stroke-width="1.3" fill="none" />
<line x1="152.5" y1="598.5" x2="141" y2="595.2" stroke="#1e1e1e" stroke-width="1.1" />
<line x1="151.5" y1="600.5" x2="145.5" y2="598.2" stroke="#1e1e1e" stroke-width="1.1" />
<path d="M140.2 594.8 L144.8 594.6 L143.6 597.2 Z" stroke="#1e1e1e" stroke-width="0.6" fill="#1e1e1e" />
<path d="M144.5 597.8 L148.6 597.2 L147.2 599.8 Z" stroke="#1e1e1e" stroke-width="0.6" fill="#1e1e1e" />
<line x1="126.4" y1="621.2" x2="155.2" y2="621.2" stroke="#1e1e1e" stroke-width="1.3" />
<line x1="155.2" y1="621.2" x2="167.2" y2="627.2" stroke="#1e1e1e" stroke-width="1.3" />
<line x1="167.2" y1="621.2" x2="167.2" y2="628.7" stroke="#1e1e1e" stroke-width="1.3" />
<line x1="167.2" y1="621.2" x2="234.3" y2="621.2" stroke="#1e1e1e" stroke-width="1.3" />
<circle cx="126.4" cy="621.2" r="2.4" stroke="#1e1e1e" stroke-width="0" fill="#1e1e1e"/>
<circle cx="209.6" cy="621.2" r="2.6" stroke="#1e1e1e" stroke-width="0" fill="#1e1e1e"/>
<circle cx="126.4" cy="606.8" r="2.4" stroke="#1e1e1e" stroke-width="0" fill="#1e1e1e"/>
<circle cx="238.6" cy="621.2" r="4.3" stroke="#1e1e1e" stroke-width="1.2" fill="none"/>
<text x="132.97" y="593.5" font-family="Liberation Mono" font-size="13.35" font-weight="normal" fill="#1e1e1e" textLength="22.57" lengthAdjust="spacingAndGlyphs" >LED</text>
<text x="155.05" y="618.4" font-family="Liberation Mono" font-size="10.77" font-weight="normal" fill="#1e1e1e" textLength="14.51" lengthAdjust="spacingAndGlyphs" >NC</text>
<line x1="126.4" y1="653" x2="142.8" y2="653" stroke="#1e1e1e" stroke-width="1.3" />
<line x1="142.8" y1="648" x2="142.8" y2="657.8" stroke="#1e1e1e" stroke-width="1.5" />
<path d="M142.8 653 L151.7 648 L151.7 658 L142.8 653" stroke="#1e1e1e" stroke-width="1.3" fill="none" />
<line x1="151.7" y1="653" x2="165.8" y2="653" stroke="#1e1e1e" stroke-width="1.3" />
<path d="M165.8 653 L170.2 649.1 L174.6 656.9 L179 649.1 L183.4 656.9 L187.8 649.1 L192.2 656.9 L196.6 653" stroke="#1e1e1e" stroke-width="1.3" fill="none" />
<path d="M196.6 653 L209.6 653 L209.6 667.7" stroke="#1e1e1e" stroke-width="1.3" fill="none" />
<line x1="152.5" y1="644.7" x2="141" y2="641.4" stroke="#1e1e1e" stroke-width="1.1" />
<line x1="151.5" y1="646.7" x2="145.5" y2="644.4" stroke="#1e1e1e" stroke-width="1.1" />
<path d="M140.2 641 L144.8 640.8 L143.6 643.4 Z" stroke="#1e1e1e" stroke-width="0.6" fill="#1e1e1e" />
<path d="M144.5 644 L148.6 643.4 L147.2 646 Z" stroke="#1e1e1e" stroke-width="0.6" fill="#1e1e1e" />
<line x1="126.4" y1="667.7" x2="155.2" y2="667.7" stroke="#1e1e1e" stroke-width="1.3" />
<line x1="155.2" y1="667.7" x2="167.2" y2="673.7" stroke="#1e1e1e" stroke-width="1.3" />
<line x1="167.2" y1="667.7" x2="167.2" y2="675.2" stroke="#1e1e1e" stroke-width="1.3" />
<line x1="167.2" y1="667.7" x2="234.3" y2="667.7" stroke="#1e1e1e" stroke-width="1.3" />
<circle cx="126.4" cy="667.7" r="2.4" stroke="#1e1e1e" stroke-width="0" fill="#1e1e1e"/>
<circle cx="209.6" cy="667.7" r="2.6" stroke="#1e1e1e" stroke-width="0" fill="#1e1e1e"/>
<circle cx="126.4" cy="653" r="2.4" stroke="#1e1e1e" stroke-width="0" fill="#1e1e1e"/>
<circle cx="238.6" cy="667.7" r="4.3" stroke="#1e1e1e" stroke-width="1.2" fill="none"/>
<text x="132.97" y="639.7" font-family="Liberation Mono" font-size="13.35" font-weight="normal" fill="#1e1e1e" textLength="22.57" lengthAdjust="spacingAndGlyphs" >LED</text>
<text x="155.05" y="664.6" font-family="Liberation Mono" font-size="10.77" font-weight="normal" fill="#1e1e1e" textLength="14.51" lengthAdjust="spacingAndGlyphs" >NC</text>
<line x1="126.4" y1="700.2" x2="142.8" y2="700.2" stroke="#1e1e1e" stroke-width="1.3" />
<line x1="142.8" y1="695.2" x2="142.8" y2="705" stroke="#1e1e1e" stroke-width="1.5" />
<path d="M142.8 700.2 L151.7 695.2 L151.7 705.2 L142.8 700.2" stroke="#1e1e1e" stroke-width="1.3" fill="none" />
<line x1="151.7" y1="700.2" x2="165.8" y2="700.2" stroke="#1e1e1e" stroke-width="1.3" />
<path d="M165.8 700.2 L170.2 696.3 L174.6 704.1 L179 696.3 L183.4 704.1 L187.8 696.3 L192.2 704.1 L196.6 700.2" stroke="#1e1e1e" stroke-width="1.3" fill="none" />
<path d="M196.6 700.2 L209.6 700.2 L209.6 714.9" stroke="#1e1e1e" stroke-width="1.3" fill="none" />
<line x1="152.5" y1="691.9" x2="141" y2="688.6" stroke="#1e1e1e" stroke-width="1.1" />
<line x1="151.5" y1="693.9" x2="145.5" y2="691.6" stroke="#1e1e1e" stroke-width="1.1" />
<path d="M140.2 688.2 L144.8 688 L143.6 690.6 Z" stroke="#1e1e1e" stroke-width="0.6" fill="#1e1e1e" />
<path d="M144.5 691.2 L148.6 690.6 L147.2 693.2 Z" stroke="#1e1e1e" stroke-width="0.6" fill="#1e1e1e" />
<line x1="126.4" y1="714.9" x2="155.2" y2="714.9" stroke="#1e1e1e" stroke-width="1.3" />
<line x1="155.2" y1="714.9" x2="167.2" y2="720.9" stroke="#1e1e1e" stroke-width="1.3" />
<line x1="167.2" y1="714.9" x2="167.2" y2="722.4" stroke="#1e1e1e" stroke-width="1.3" />
<line x1="167.2" y1="714.9" x2="234.3" y2="714.9" stroke="#1e1e1e" stroke-width="1.3" />
<circle cx="126.4" cy="714.9" r="2.4" stroke="#1e1e1e" stroke-width="0" fill="#1e1e1e"/>
<circle cx="209.6" cy="714.9" r="2.6" stroke="#1e1e1e" stroke-width="0" fill="#1e1e1e"/>
<circle cx="126.4" cy="700.2" r="2.4" stroke="#1e1e1e" stroke-width="0" fill="#1e1e1e"/>
<circle cx="238.6" cy="714.9" r="4.3" stroke="#1e1e1e" stroke-width="1.2" fill="none"/>
<text x="132.97" y="686.9" font-family="Liberation Mono" font-size="13.35" font-weight="normal" fill="#1e1e1e" textLength="22.57" lengthAdjust="spacingAndGlyphs" >LED</text>
<text x="155.05" y="711.8" font-family="Liberation Mono" font-size="10.77" font-weight="normal" fill="#1e1e1e" textLength="14.51" lengthAdjust="spacingAndGlyphs" >NC</text>
<text x="166.65" y="552.5" font-family="Liberation Mono" font-size="13.51" font-weight="normal" fill="#1e1e1e" textLength="56.89" lengthAdjust="spacingAndGlyphs" >5.1KΩ X4</text>
<line x1="126.4" y1="744.6" x2="234.3" y2="744.6" stroke="#1e1e1e" stroke-width="1.3" />
<circle cx="238.6" cy="744.6" r="4.3" stroke="#1e1e1e" stroke-width="1.2" fill="none"/>
<circle cx="253.7" cy="575.8" r="7.8" stroke="#1e1e1e" stroke-width="1.0" fill="none"/>
<text x="253.7" y="581.1" text-anchor="middle" font-family="Liberation Sans" font-size="15.2" fill="#1e1e1e">1</text>
<text x="266.73" y="581.4" font-family="Liberation Mono" font-size="18.21" font-weight="normal" fill="#1e1e1e" textLength="51.45" lengthAdjust="spacingAndGlyphs"  stroke="#fff" stroke-width="0.12">BLACK</text>
<line x1="340.1" y1="576.4" x2="346.7" y2="576.4" stroke="#1e1e1e" stroke-width="1.4" />
<line x1="342.9" y1="571.3" x2="342.9" y2="580.4" stroke="#1e1e1e" stroke-width="1.4" />
<circle cx="253.7" cy="621.8" r="7.8" stroke="#1e1e1e" stroke-width="1.0" fill="none"/>
<text x="253.7" y="627.1" text-anchor="middle" font-family="Liberation Sans" font-size="15.2" fill="#1e1e1e">2</text>
<text x="266.73" y="627.4" font-family="Liberation Mono" font-size="18.21" font-weight="normal" fill="#1e1e1e" textLength="51.55" lengthAdjust="spacingAndGlyphs"  stroke="#fff" stroke-width="0.12">GREEN</text>
<line x1="340.1" y1="622.4" x2="346.7" y2="622.4" stroke="#1e1e1e" stroke-width="1.4" />
<line x1="342.9" y1="617.3" x2="342.9" y2="626.4" stroke="#1e1e1e" stroke-width="1.4" />
<circle cx="253.7" cy="668.3" r="7.8" stroke="#1e1e1e" stroke-width="1.0" fill="none"/>
<text x="253.7" y="673.6" text-anchor="middle" font-family="Liberation Sans" font-size="15.2" fill="#1e1e1e">3</text>
<text x="266.73" y="673.9" font-family="Liberation Mono" font-size="18.21" font-weight="normal" fill="#1e1e1e" textLength="61.55" lengthAdjust="spacingAndGlyphs"  stroke="#fff" stroke-width="0.12">ORANGE</text>
<line x1="340.1" y1="668.9" x2="346.7" y2="668.9" stroke="#1e1e1e" stroke-width="1.4" />
<line x1="342.9" y1="663.8" x2="342.9" y2="672.9" stroke="#1e1e1e" stroke-width="1.4" />
<circle cx="253.7" cy="715.5" r="7.8" stroke="#1e1e1e" stroke-width="1.0" fill="none"/>
<text x="253.7" y="720.8" text-anchor="middle" font-family="Liberation Sans" font-size="15.2" fill="#1e1e1e">4</text>
<text x="266.73" y="721.1" font-family="Liberation Mono" font-size="18.21" font-weight="normal" fill="#1e1e1e" textLength="61.55" lengthAdjust="spacingAndGlyphs"  stroke="#fff" stroke-width="0.12">YELLOW</text>
<line x1="340.1" y1="716.1" x2="346.7" y2="716.1" stroke="#1e1e1e" stroke-width="1.4" />
<line x1="342.9" y1="711" x2="342.9" y2="720.1" stroke="#1e1e1e" stroke-width="1.4" />
<text x="246.83" y="750.7" font-family="Liberation Mono" font-size="18.21" font-weight="normal" fill="#1e1e1e" textLength="90.95" lengthAdjust="spacingAndGlyphs"  stroke="#fff" stroke-width="0.12">COM WHITE</text>
<line x1="349.1" y1="744.6" x2="356.3" y2="744.6" stroke="#1e1e1e" stroke-width="1.2" />
<text x="403.92" y="662.6" font-family="Liberation Mono" font-size="15.48" font-weight="normal" fill="#1e1e1e" textLength="144.17" lengthAdjust="spacingAndGlyphs" >SET : H4A-18-12S</text>
<text x="429.87" y="689.6" font-family="Liberation Mono" font-size="16.08" font-weight="normal" fill="#1e1e1e" textLength="99.25" lengthAdjust="spacingAndGlyphs" >COMPOSITION</text>
<path d="M556 670.6 L548.5 670.6 L548.5 702.4 L556 702.4" stroke="#1e1e1e" stroke-width="1.3" fill="none" />
<text x="563.54" y="681" font-family="Liberation Mono" font-size="15.17" font-weight="normal" fill="#1e1e1e" textLength="98.72" lengthAdjust="spacingAndGlyphs" >SENSOR HEAD</text>
<text x="563.54" y="702.4" font-family="Liberation Mono" font-size="15.17" font-weight="normal" fill="#1e1e1e" textLength="187.52" lengthAdjust="spacingAndGlyphs" >LEVEL CONVERSION UNIT</text>
<text x="768.94" y="681" font-family="Liberation Mono" font-size="15.17" font-weight="normal" fill="#1e1e1e" textLength="90.92" lengthAdjust="spacingAndGlyphs" >H4A-18-12H</text>
<text x="768.94" y="702.4" font-family="Liberation Mono" font-size="15.17" font-weight="normal" fill="#1e1e1e" textLength="46.12" lengthAdjust="spacingAndGlyphs" >BA-4A</text>
<path d="M939.1 786.3 L939.1 706.3 L1162.2 706.3" stroke="#1e1e1e" stroke-width="1.5" fill="none" />
<line x1="939.1" y1="726.2" x2="1162.7" y2="726.2" stroke="#1e1e1e" stroke-width="1.5" />
<line x1="877.7" y1="726.5" x2="939.1" y2="726.5" stroke="#1e1e1e" stroke-width="1.5" />
<line x1="939.1" y1="746.3" x2="1163" y2="746.3" stroke="#1e1e1e" stroke-width="1.5" />
<line x1="877.7" y1="756.9" x2="939.1" y2="756.9" stroke="#1e1e1e" stroke-width="1.5" />
<line x1="877.7" y1="726.5" x2="877.7" y2="786.3" stroke="#1e1e1e" stroke-width="1.5" />
<line x1="1000.4" y1="706.3" x2="1000.4" y2="746.3" stroke="#1e1e1e" stroke-width="1.5" />
<text x="948.75" y="723.1" font-family="Liberation Mono" font-size="17.91" font-weight="normal" fill="#3a3a3a" textLength="40.61" lengthAdjust="spacingAndGlyphs"  stroke="#fff" stroke-width="0.1">NAME</text>
<text x="944.22" y="736.3" font-family="Liberation Mono" font-size="11.08" font-weight="normal" fill="#333" textLength="51.55" lengthAdjust="spacingAndGlyphs" >DRAWING</text>
<text x="944.24" y="745.3" font-family="Liberation Mono" font-size="10.93" font-weight="normal" fill="#333" textLength="44.03" lengthAdjust="spacingAndGlyphs" >NUMBER</text>
<text x="1020.08" y="743.2" font-family="Liberation Mono" font-size="20.33" font-weight="normal" fill="#444" textLength="152.94" lengthAdjust="spacing" transform="translate(1021.3,0) scale(0.8,1) translate(-1021.3,0)"  stroke="#fff" stroke-width="0.3">H4A-18-12S</text>
<text x="892.6" y="748.8" font-family="Liberation Mono" font-size="20.03" font-weight="normal" fill="#3a3a3a" textLength="33.23" lengthAdjust="spacing" transform="translate(893.8,0) scale(0.85,1) translate(-893.8,0)"  stroke="#fff" stroke-width="0.27">A4</text>
<text x="888.14" y="779.4" font-family="Liberation Mono" font-size="20.94" font-weight="normal" fill="#444" textLength="48.04" lengthAdjust="spacing" transform="translate(889.4,0) scale(0.85,1) translate(-889.4,0)"  stroke="#fff" stroke-width="0.35">1 : 1</text>
<text x="999.18" y="777.2" font-family="Liberation Sans" font-size="21.66" font-weight="bold" fill="#000" textLength="158.83" lengthAdjust="spacingAndGlyphs" stroke="#000" stroke-width="1.1">TOOLSENSOR.COM</text>
<path d="M957.9 768.3 L963.3 760.8 L968.2 764.6 L975.5 752 L987.4 768.3 Z" stroke="#1e1e1e" stroke-width="0" fill="#000" />
<path d="M969.5 768.6 L972.5 764.8 L975.6 768.6 Z" stroke="#1e1e1e" stroke-width="0" fill="#fff" />
<text x="950.49" y="776.4" font-family="Liberation Sans" font-size="8.72" font-weight="bold" fill="#000" textLength="43.52" lengthAdjust="spacingAndGlyphs" stroke="#000" stroke-width="0.35">METROL</text>
<path d="M947.3 783.5 L951 778 L956.3 778 L952.6 783.5 Z" stroke="#1e1e1e" stroke-width="0" fill="#000" />
<path d="M958.1 783.5 L961.1 778 L976 778 L979 783.5 Z" stroke="#1e1e1e" stroke-width="0" fill="#000" />
<path d="M965 783.6 L968.5 778 L972 783.6 Z" stroke="#1e1e1e" stroke-width="0" fill="#fff" />
<path d="M983.3 778 L994.7 778 L998 783.5 L986 783.5 Z" stroke="#1e1e1e" stroke-width="0" fill="#000" />
<circle cx="991.5" cy="765.6" r="2" stroke="#1e1e1e" stroke-width="1.9" fill="none"/>
<path d="M1047.59 710.24 L1053.79 710.24 L1053.35 722.48 L1052.02 721.76 M1050.69 710.24 L1050.24 717.44 L1047.59 722.48 M1048.47 715.28 L1049.36 716.72 " stroke="#222" stroke-width="1.25" fill="none" />
<path d="M1056.45 714.56 L1063.53 714.56 M1057.77 710.24 L1056.89 713.12 M1057.33 711.68 L1062.65 711.68 M1059.99 709.52 L1059.99 714.56 M1056 718.16 L1063.98 718.16 M1059.1 718.16 L1056.89 722.48 M1060.88 718.16 L1060.88 722.48 L1063.53 721.76 " stroke="#222" stroke-width="1.25" fill="none" />
<path d="M1064.86 713.12 L1067.52 713.12 M1066.19 709.52 L1066.19 722.48 M1066.19 714.56 L1064.86 718.88 M1070.18 709.52 L1067.96 713.84 M1070.18 709.52 L1072.84 713.84 M1068.41 715.28 L1072.39 715.28 L1072.39 718.16 L1068.41 718.16 L1068.41 715.28 M1070.18 715.28 L1070.18 718.88 L1067.96 722.48 M1070.18 718.88 L1072.84 722.48 " stroke="#222" stroke-width="1.25" fill="none" />
<path d="M1075.05 709.52 L1074.17 713.12 M1074.17 713.12 L1077.27 713.12 M1073.72 716.72 L1077.71 716.72 M1075.76 713.12 L1075.76 717.44 L1073.72 722.48 M1075.76 717.44 L1077.27 721.76 M1078.15 711.68 L1081.7 711.68 L1081.7 721.04 L1078.15 721.04 L1078.15 711.68 " stroke="#222" stroke-width="1.25" fill="none" />
<path d="M1083.03 712.4 L1089.23 712.4 L1088.34 717.44 L1084.8 722.48 " stroke="#222" stroke-width="1.25" fill="none" />
<circle cx="1090.29" cy="710.53" r="1.2" stroke="#222" stroke-width="0.9" fill="none"/>
<path d="M1092.33 711.68 L1098.53 711.68 L1098.53 721.04 L1092.33 721.04 L1092.33 711.68 " stroke="#222" stroke-width="1.25" fill="none" />
<path d="M1100.3 716 L1108.28 716 " stroke="#222" stroke-width="1.25" fill="none" />
<path d="M1109.61 712.4 L1115.81 712.4 L1114.92 717.44 L1111.38 722.48 M1115.63 708.8 L1116.34 710.53 M1116.87 708.8 L1117.58 710.53 " stroke="#222" stroke-width="1.25" fill="none" />
</svg></body></html>
